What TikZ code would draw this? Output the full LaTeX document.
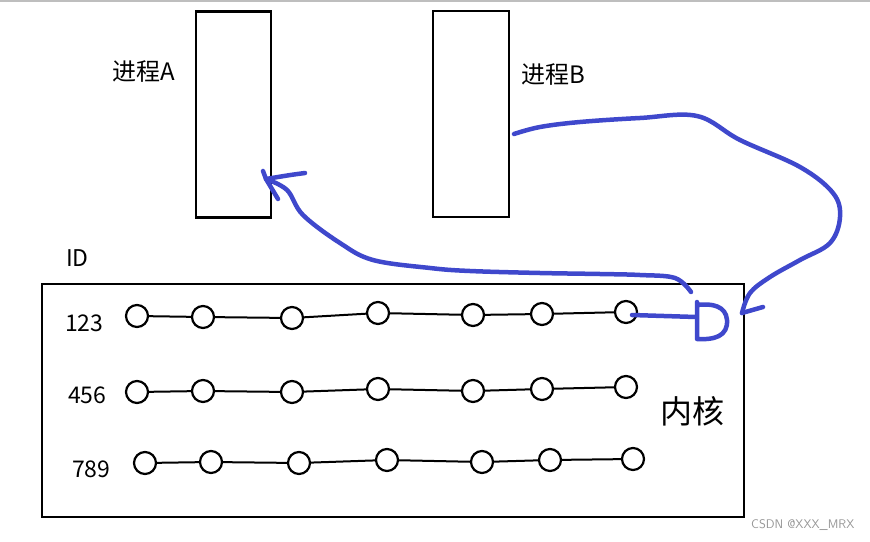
\documentclass[tikz,border=0pt]{standalone}
\usepackage{fontspec}
\setmainfont{Noto Sans CJK SC}
\begin{document}
\begin{tikzpicture}[x=1pt,y=-1pt,
  box/.style={draw=black,line width=2.4pt},
  dot/.style={circle,draw=black,line width=2.2pt,minimum size=22pt,inner sep=0pt},
  link/.style={draw=black,line width=2pt},
  ink/.style={draw=inkblue,line width=4.5pt,line cap=round,line join=round},
  lab/.style={font=\fontsize{23}{23}\selectfont,inner sep=0pt},
]
\definecolor{inkblue}{RGB}{63,72,204}
\useasboundingbox (0,0) rectangle (870,541);
% top gray rule
\coordinate (tl) at (0,1);
\coordinate (tr) at (870,1);
\draw[draw={rgb,255:red,190;green,190;blue,190},line width=2.5pt] (tl) -- (tr);
% processes
\node[box,minimum width=75pt,minimum height=206pt,inner sep=0pt] (procA) at (233.5,114.5) {};
\node[box,minimum width=76pt,minimum height=206pt,inner sep=0pt] (procB) at (471,114) {};
\node[lab,anchor=west,font=\fontsize{24}{24}\selectfont] (labA) at (112,72) {进程A};
\node[lab,anchor=west,font=\fontsize{24}{24}\selectfont] (labB) at (521,75) {进程B};
% kernel
\node[lab,anchor=west] (id) at (66,258) {ID};
\node[draw=black,line width=2.8pt,minimum width=702pt,minimum height=233pt,inner sep=0pt] (kernel) at (393,400.5) {};
\node[font=\fontsize{32}{32}\selectfont,inner sep=0pt] (kname) at (692,411) {内核};
\node[lab,anchor=west] (n1) at (65,323) {123};
\node[lab,anchor=west] (n2) at (68,395) {456};
\node[lab,anchor=west] (n3) at (72,469) {789};
% rows of list elements
\foreach \i/\x/\y in {1/137/316,2/203/317,3/292/318,4/378/313,5/473/315,6/542/314,7/626/312}
  \node[dot] (a\i) at (\x,\y) {};
\foreach \i/\x/\y in {1/137/392,2/203/391,3/292/392,4/378/389,5/473/391,6/542/389,7/626/387}
  \node[dot] (b\i) at (\x,\y) {};
\foreach \i/\x/\y in {1/145/463,2/211/462,3/299/463,4/387/460,5/482/462,6/550/460,7/633/459}
  \node[dot] (c\i) at (\x,\y) {};
\foreach \r in {a,b,c}{
  \foreach \i [count=\j from 2] in {1,...,6}
    \draw[link] (\r\i) -- (\r\j);
}
% blue ink: from process B round to the kernel
\coordinate (bs) at (514,134);
\coordinate (bend) at (742,313);
\draw[ink] plot[smooth,tension=0.6] coordinates {(bs) (540,127) (580,122) (640,118) (697,116) (740,140) (800,167) (833,193) (840,217) (830,243) (800,260) (770,277) (750,293) (bend)};
\coordinate (barb) at (763,307);
\draw[ink] (bend) -- (barb);
% D mark at the entry
\coordinate (ds) at (632,315);
\coordinate (dv) at (696,317);
\draw[ink] (ds) -- (dv);
\draw[ink] (697,302) -- (697,339) .. controls (715,340) and (728,336) .. (727,320) .. controls (726,306) and (712,303) .. (697,305);
% blue ink: back to process A
\coordinate (cs) at (691,292);
\coordinate (ctip) at (266,179);
\draw[ink] plot[smooth,tension=0.6] coordinates {(cs) (675,278) (640,275) (600,274) (540,273) (470,271) (430,268) (373,260) (340,243) (303,215) (287,190) (ctip)};
\coordinate (cb1) at (305,173);
\coordinate (cb2) at (278,199);
\coordinate (cb0) at (263,171);
\draw[ink] (cb1) .. controls (290,175) .. (ctip) -- (cb2);
\draw[ink] (cb0) -- (ctip);
% watermark
\node[font=\fontsize{12.5}{12.5}\sffamily\selectfont,text={rgb,255:red,150;green,150;blue,150},anchor=west,inner sep=0pt] (wm) at (751,525) {CSDN @XXX\_MRX};
\end{tikzpicture}
\end{document}
